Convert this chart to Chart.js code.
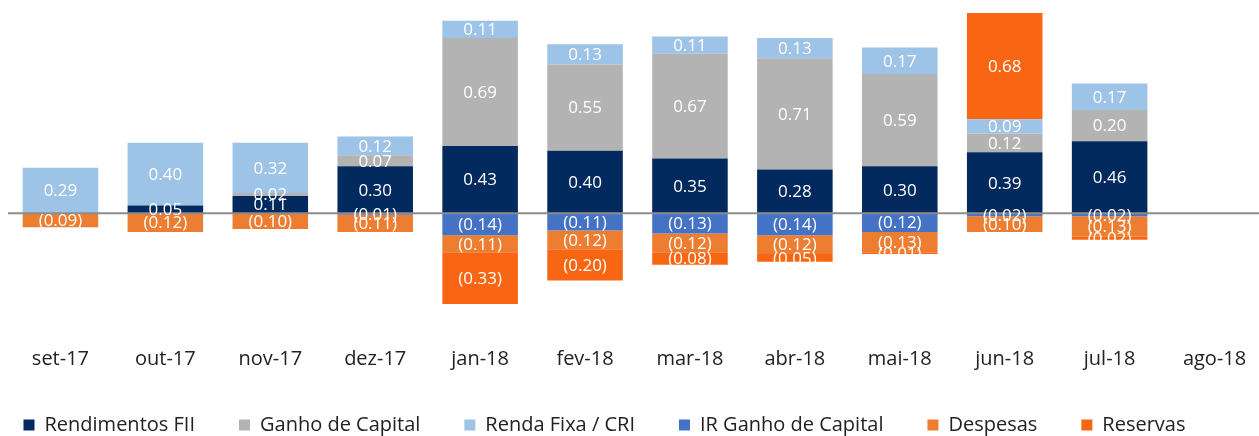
<!DOCTYPE html>
<html>
<head>
<meta charset="utf-8">
<script src="https://cdn.jsdelivr.net/npm/chart.js@4.4.0/dist/chart.umd.min.js"></script>
<style>
  html, body { margin: 0; padding: 0; background: #fff; overflow: hidden; }
  #wrap { width: 1267px; height: 436px; }
</style>
</head>
<body>
<div id="wrap"><canvas id="chart"></canvas></div>
<script>
// Dados do gráfico
const meses = ['set-17', 'out-17', 'nov-17', 'dez-17', 'jan-18', 'fev-18', 'mar-18', 'abr-18', 'mai-18', 'jun-18', 'jul-18', 'ago-18'];
const rendimentosFII = [0, 0.05, 0.11, 0.30, 0.43, 0.40, 0.35, 0.28, 0.30, 0.39, 0.46, null];
const ganhoCapital = [0, 0, 0.02, 0.07, 0.69, 0.55, 0.67, 0.71, 0.59, 0.12, 0.20, null];
const rendaFixa = [0.29, 0.40, 0.32, 0.12, 0.11, 0.13, 0.11, 0.13, 0.17, 0.09, 0.17, null];
const irGanhoCapital = [0, 0, 0, -0.01, -0.14, -0.11, -0.13, -0.14, -0.12, -0.02, -0.02, null];
const despesas = [-0.09, -0.12, -0.10, -0.11, -0.11, -0.12, -0.12, -0.12, -0.13, -0.10, -0.13, null];
const reservas = [0, 0, 0, 0, -0.33, -0.20, -0.08, -0.05, -0.01, 0.68, -0.02, null];

const fonte = '"Open Sans", "Noto Sans", sans-serif';

function formatar(v) {
    const s = Math.abs(v).toFixed(2);
    return v < 0 ? '(' + s + ')' : s;
}

// Rótulos dentro das barras + linha do zero
const rotulosPlugin = {
    id: 'rotulos',
    afterLayout(chart) {
        // legenda um pouco deslocada para a esquerda, como no original
        chart.legend.left -= 33;
        chart.legend.right -= 33;
    },
    afterDatasetsDraw(chart) {
        const ctx = chart.ctx;
        const y0 = chart.scales.y.getPixelForValue(0);
        ctx.save();
        ctx.strokeStyle = '#8c8c8c';
        ctx.lineWidth = 2;
        ctx.beginPath();
        ctx.moveTo(chart.chartArea.left, y0);
        ctx.lineTo(chart.chartArea.right, y0);
        ctx.stroke();

        ctx.font = '17px ' + fonte;
        ctx.fillStyle = '#ffffff';
        ctx.textAlign = 'center';
        ctx.textBaseline = 'middle';
        chart.data.datasets.forEach((ds, i) => {
            const meta = chart.getDatasetMeta(i);
            meta.data.forEach((bar, j) => {
                const v = ds.data[j];
                if (!v) return;
                const p = bar.getProps(['x', 'y', 'base'], true);
                ctx.fillText(formatar(v), p.x, (p.y + p.base) / 2 + 1);
            });
        });
        ctx.restore();
    }
};

const series = [
    { label: 'Rendimentos FII', data: rendimentosFII, cor: '#032a5e' },
    { label: 'Ganho de Capital', data: ganhoCapital, cor: '#b3b3b3' },
    { label: 'Renda Fixa / CRI', data: rendaFixa, cor: '#9dc3e6' },
    { label: 'IR Ganho de Capital', data: irGanhoCapital, cor: '#4472c4' },
    { label: 'Despesas', data: despesas, cor: '#ed7d31' },
    { label: 'Reservas', data: reservas, cor: '#f96613' }
];

new Chart(document.getElementById('chart'), {
    type: 'bar',
    data: {
        labels: meses,
        datasets: series.map(s => ({
            label: s.label,
            data: s.data,
            backgroundColor: s.cor,
            borderWidth: 0,
            barPercentage: 0.9,
            categoryPercentage: 0.8
        }))
    },
    options: {
        responsive: true,
        maintainAspectRatio: false,
        animation: false,
        layout: { padding: { left: 8, right: 0, top: 5, bottom: -9 } },
        plugins: {
            legend: {
                position: 'bottom',
                labels: {
                    boxWidth: 11,
                    boxHeight: 11,
                    padding: 44,
                    color: '#222',
                    font: { family: fonte, size: 20 }
                }
            },
            tooltip: { enabled: false }
        },
        scales: {
            x: {
                stacked: true,
                grid: { display: false, drawTicks: false },
                border: { display: false },
                ticks: {
                    color: '#222',
                    padding: 0,
                    font: { family: fonte, size: 20 }
                }
            },
            y: {
                stacked: true,
                display: false,
                min: -0.855,
                max: 1.331
            }
        }
    },
    plugins: [rotulosPlugin]
});
</script>
</body>
</html>
